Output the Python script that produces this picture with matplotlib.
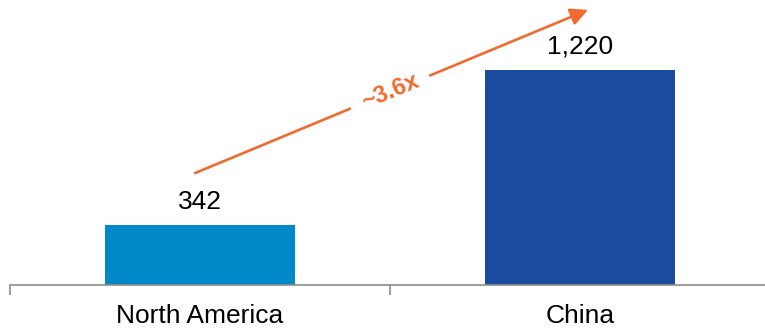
import numpy as np
import matplotlib
matplotlib.use('Agg')
from matplotlib import pyplot as plt

plt.rcParams['font.family'] = ['Liberation Sans', 'DejaVu Sans']

regions = ['North America', 'China']
values = [342, 1220]
value_labels = ['342', '1,220']
bar_colors = ['#0088c9', '#1a4b9e']
multiple_label = '~3.6x'

orange = '#f26a2e'
grey = '#8c8c8c'

fig = plt.figure(figsize=(7.65, 3.29), dpi=100)
# axes runs slightly past the right edge, like the source slide
ax = fig.add_axes([10 / 765, 44 / 329, 760 / 765, 285 / 329])

x = np.arange(len(regions))
ax.bar(x, values, width=0.5, color=bar_colors)

for xi, v, lab in zip(x, values, value_labels):
    ax.annotate(lab, (xi, v), xytext=(0, 11.5), textcoords='offset points',
                ha='center', va='baseline', fontsize=19)

ax.set_xlim(-0.5, 1.5)
ax.set_ylim(0, 1617)

# boundary ticks between categories, labels in the middle
ax.set_xticks([-0.5, 0.5, 1.5])
ax.set_xticklabels([])
ax.set_xticks(x, minor=True)
ax.set_xticklabels(regions, minor=True, fontsize=19)
ax.tick_params(axis='x', which='major', direction='out', length=7.5,
               width=1.2, color=grey)
ax.tick_params(axis='x', which='minor', length=0, pad=14)
ax.set_yticks([])

for s in ['top', 'right', 'left']:
    ax.spines[s].set_visible(False)
ax.spines['bottom'].set_color(grey)
ax.spines['bottom'].set_linewidth(1.2)

# growth arrow from NA label to China label
ax.annotate('', xy=(1.021, 1561), xytext=(-0.013, 635),
            arrowprops=dict(arrowstyle='-|>', color=orange, lw=1.9,
                            mutation_scale=26, shrinkA=0, shrinkB=0),
            annotation_clip=False)
ax.text(0.5, 1095, multiple_label, color=orange, fontsize=17,
        fontweight='bold', rotation=22.5, ha='center', va='center',
        rotation_mode='anchor',
        bbox=dict(facecolor='white', edgecolor='none', pad=9))

fig.savefig('out.png', dpi=100)
